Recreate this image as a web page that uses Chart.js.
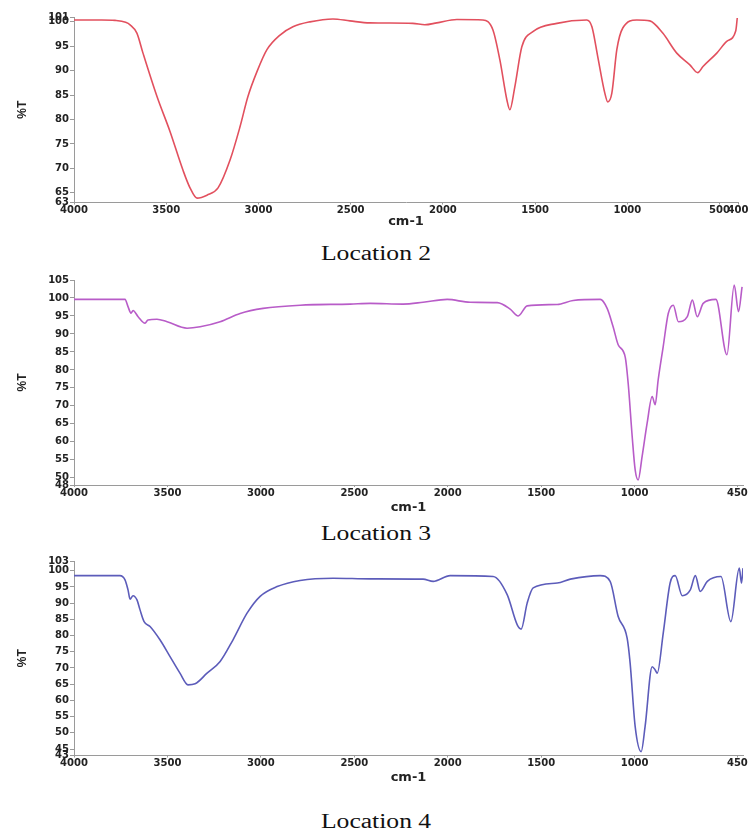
<!DOCTYPE html>
<html>
<head>
<meta charset="utf-8">
<script src="https://cdn.jsdelivr.net/npm/chart.js@4"></script>
<style>
    body { margin: 0; background: #fff; width: 753px; height: 831px; position: relative; overflow: hidden; }
    .panel { position: absolute; left: 0; width: 753px; }
    .caption {
        position: absolute; left: 0; width: 753px; text-align: center;
        font-family: 'Liberation Serif', 'Times New Roman', serif; font-size: 20px; color: #111;
    }
    .caption span { display: inline-block; transform: scaleX(1.28); }
</style>
</head>
<body>
<div class="panel" id="p1"><canvas id="chart1"></canvas></div>
<div class="caption" style="top:242px"><span>Location 2</span></div>
<div class="panel" id="p2"><canvas id="chart2"></canvas></div>
<div class="caption" style="top:522px"><span>Location 3</span></div>
<div class="panel" id="p3"><canvas id="chart3"></canvas></div>
<div class="caption" style="top:810px"><span>Location 4</span></div>

<script>
// Location 2
const wn1 = [4000, 3850, 3778, 3720, 3696, 3659, 3626, 3550, 3480, 3409, 3371, 3333, 3279, 3219, 3154, 3100, 3057, 3008, 2954, 2883, 2813, 2721, 2596, 2504, 2396, 2163, 2098, 2033, 1924, 1783, 1729, 1691, 1653, 1637, 1610, 1572, 1512, 1382, 1220, 1192, 1160, 1122, 1106, 1084, 1057, 1024, 949, 878, 808, 732, 661, 618, 591, 515, 461, 412, 404];
const t1 = [100.4, 100.4, 100.3, 99.9, 99.4, 97.7, 93.6, 84.7, 77.6, 69.6, 66, 63.9, 64.5, 66, 71.7, 78.5, 84.7, 89.8, 94.3, 97.3, 99, 100, 100.6, 100.2, 99.8, 99.7, 99.4, 99.8, 100.5, 100.4, 98.4, 92.2, 84, 82, 86.7, 94.9, 98, 99.7, 100.4, 99, 92.8, 85.4, 83.6, 85.4, 94.3, 98.8, 100.4, 100.2, 97.7, 93.6, 91.2, 89.6, 90.8, 93.6, 96, 98.2, 100.8];

// Location 3
const wn2 = [4000, 3727, 3711, 3695, 3684, 3657, 3620, 3604, 3556, 3502, 3395, 3325, 3218, 3111, 2988, 2790, 2522, 2415, 2239, 2132, 2003, 1880, 1735, 1666, 1623, 1575, 1414, 1329, 1184, 1147, 1115, 1088, 1050, 1034, 1013, 997, 981, 960, 933, 906, 890, 874, 847, 820, 793, 766, 718, 691, 665, 633, 565, 506, 467, 444, 425];
const t2 = [99.6, 99.6, 97.6, 95.8, 96.5, 94.8, 93, 93.9, 94.1, 93.4, 91.6, 92, 93.4, 95.7, 97.1, 98, 98.3, 98.5, 98.3, 98.8, 99.6, 98.8, 98.7, 96.9, 95, 97.8, 98.2, 99.3, 99.6, 97.1, 92, 87, 83.5, 76, 61.5, 52.2, 49.4, 55.9, 65.2, 72.6, 70.3, 77.2, 86.5, 95.7, 98, 93.4, 94.8, 99.4, 94.8, 98.5, 99.6, 84.2, 103.6, 96.2, 103.1];

// Location 4
const wn3 = [4000, 3754, 3727, 3711, 3700, 3684, 3663, 3647, 3625, 3593, 3540, 3486, 3433, 3390, 3352, 3288, 3218, 3149, 3074, 3004, 2913, 2790, 2613, 2415, 2132, 2078, 1987, 1757, 1682, 1628, 1607, 1575, 1543, 1414, 1344, 1184, 1131, 1088, 1040, 1024, 997, 965, 944, 906, 890, 879, 847, 810, 783, 745, 702, 675, 649, 611, 538, 485, 440, 428, 420];
const t3 = [98.5, 98.5, 97.2, 94.1, 91.2, 92.3, 91, 88, 84.3, 82.8, 78.7, 73.5, 68.4, 64.8, 65.1, 68.4, 72, 78.7, 86.9, 92.1, 95.1, 97, 97.7, 97.5, 97.4, 96.7, 98.5, 98.2, 92.6, 83.3, 82, 90, 94.7, 96.2, 97.4, 98.5, 96.7, 85.9, 79.2, 71.5, 51.9, 44.2, 51.9, 70.4, 69.4, 68.4, 80.7, 96.2, 98.5, 92.3, 94.1, 98.5, 93.6, 96.7, 98.2, 84.3, 100.8, 96.2, 100.8];

const xTicks1 = [4000, 3500, 3000, 2500, 2000, 1500, 1000, 500, 400];
const xTicks2 = [4000, 3500, 3000, 2500, 2000, 1500, 1000, 450];
const yTicks1 = [63, 65, 70, 75, 80, 85, 90, 95, 100, 101];
const yTicks2 = [48, 50, 55, 60, 65, 70, 75, 80, 85, 90, 95, 100, 105];
const yTicks3 = [43, 45, 50, 55, 60, 65, 70, 75, 80, 85, 90, 95, 100, 103];

const tickFont = { family: 'DejaVu Sans', size: 10, weight: 'bold' };
const axisColor = '#9a9a9a';

function makeChart(cfg) {
    const wrap = document.getElementById(cfg.wrap);
    const canvas = document.getElementById(cfg.id);
    const h = cfg.plotBottom + cfg.axisH - cfg.top;
    wrap.style.top = cfg.top + 'px';
    canvas.width = 753;
    canvas.height = h;

    return new Chart(canvas, {
        type: 'line',
        data: {
            datasets: [{
                data: cfg.wn.map((w, i) => ({ x: w, y: cfg.t[i] })),
                borderColor: cfg.color,
                borderWidth: 1.6,
                pointRadius: 0,
                fill: false,
                cubicInterpolationMode: 'monotone'
            }]
        },
        options: {
            responsive: false,
            animation: false,
            devicePixelRatio: 1,
            layout: { padding: { top: cfg.plotTop - cfg.top, right: 753 - cfg.plotRight, left: 0, bottom: 0 } },
            plugins: { legend: { display: false }, tooltip: { enabled: false } },
            scales: {
                x: {
                    type: 'linear',
                    reverse: true,
                    min: cfg.xMin,
                    max: 4000,
                    afterBuildTicks: (scale) => { scale.ticks = cfg.xTicks.map(v => ({ value: v })); },
                    afterFit: (scale) => { scale.height = cfg.axisH; },
                    border: { color: axisColor, width: 1 },
                    grid: { drawOnChartArea: false, tickLength: 2, color: axisColor },
                    ticks: { autoSkip: false, maxRotation: 0, minRotation: 0, padding: 0, color: '#222', font: tickFont,
                        callback: (value) => String(value) },
                    title: { display: true, text: 'cm-1', color: '#222', padding: 0, font: { family: 'DejaVu Sans', size: 13, weight: 'bold' } }
                },
                y: {
                    min: cfg.yTicks[0],
                    max: cfg.yTicks[cfg.yTicks.length - 1],
                    afterBuildTicks: (scale) => { scale.ticks = cfg.yTicks.map(v => ({ value: v })); },
                    afterFit: (scale) => { scale.width = 74; },
                    border: { color: axisColor, width: 1 },
                    grid: { drawOnChartArea: false, tickLength: 4, color: axisColor },
                    ticks: { autoSkip: false, padding: 1, color: '#222', font: tickFont, callback: (value) => String(value) },
                    title: { display: true, text: '%T', color: '#222', padding: { top: 15, bottom: 0 }, font: { family: 'Liberation Sans', size: 12, weight: 'bold' } }
                }
            }
        }
    });
}

makeChart({ wrap: 'p1', id: 'chart1', top: -6, plotTop: 17, plotBottom: 202.5, axisH: 26.5, plotRight: 738, xMin: 400,
    wn: wn1, t: t1, xTicks: xTicks1, yTicks: yTicks1, color: '#e2505e' });
makeChart({ wrap: 'p2', id: 'chart2', top: 262, plotTop: 280, plotBottom: 485, axisH: 30, plotRight: 743, xMin: 420,
    wn: wn2, t: t2, xTicks: xTicks2, yTicks: yTicks2, color: '#b85cc8' });
makeChart({ wrap: 'p3', id: 'chart3', top: 545, plotTop: 561, plotBottom: 755.5, axisH: 29.5, plotRight: 743, xMin: 420,
    wn: wn3, t: t3, xTicks: xTicks2, yTicks: yTicks3, color: '#5c5cba' });
</script>
</body>
</html>
